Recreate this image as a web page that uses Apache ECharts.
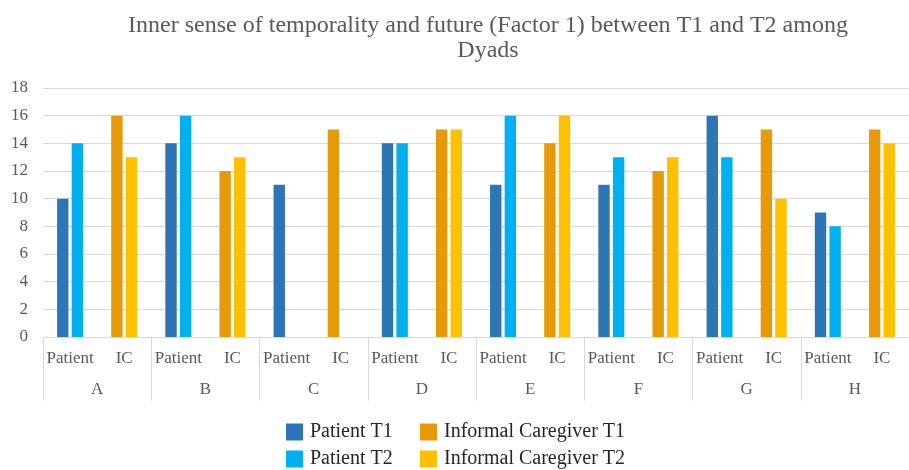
<!DOCTYPE html>
<html>
<head>
<meta charset="utf-8">
<script src="https://cdn.jsdelivr.net/npm/echarts@6/dist/echarts.min.js"></script>
<style>
  html, body { margin: 0; padding: 0; background: #fff; }
  #chart { width: 909px; height: 470px; }
</style>
</head>
<body>
<div id="chart"></div>
<script>
    // dyads and the two sub-categories shown under each
    var dyads = ['A', 'B', 'C', 'D', 'E', 'F', 'G', 'H'];
    var roles = ['Patient', 'IC'];

    // values (null = no bar)
    var patientT1 = [10, 14, 11, 14, 11, 11, 16, 9];
    var patientT2 = [14, 16, null, 14, 16, 13, 13, 8];
    var caregiverT1 = [16, 12, 15, 15, 14, 12, 15, 15];
    var caregiverT2 = [13, 13, null, 15, 16, 13, 10, 14];

    var font = 'Liberation Serif';
    var grey = '#595959';

    // 16 sub-categories: Patient, IC, Patient, IC ...
    var subCats = [];
    dyads.forEach(function () {
        subCats.push(roles[0], roles[1]);
    });

    // spread a per-dyad array into the patient or IC slot
    function spread(values, slot) {
        var out = [];
        values.forEach(function (v) {
            if (slot === 0) {
                out.push(v, null);
            }
            else {
                out.push(null, v);
            }
        });
        return out;
    }

    function bar(name, data, stack, color) {
        return {
            name: name,
            type: 'bar',
            stack: stack,
            data: data,
            itemStyle: {color: color},
            barGap: '28%',
            barCategoryGap: '52%'
        };
    }

    function legend(names, left) {
        return {
            data: names,
            orient: 'vertical',
            left: left,
            top: 417,
            height: 60,
            itemWidth: 17,
            itemHeight: 17,
            itemGap: 7,
            icon: 'rect',
            textStyle: {fontFamily: font, fontSize: 20, color: '#262626', padding: [0, 0, 0, 2]}
        };
    }

    var option = {
        backgroundColor: '#fff',
        animation: false,
        title: {
            text: 'Inner sense of temporality and future (Factor 1) between T1 and T2 among\nDyads',
            left: 483,
            top: 8,
            textAlign: 'center',
            textStyle: {
                fontFamily: font,
                fontSize: 24,
                fontWeight: 'normal',
                color: grey,
                lineHeight: 25
            }
        },
        legend: [
            legend(['Patient T1', 'Patient T2'], 281),
            legend(['Informal Caregiver T1', 'Informal Caregiver T2'], 415)
        ],
        grid: {
            left: 43,
            right: -11,
            top: 88,
            bottom: 133,
            containLabel: false
        },
        xAxis: [
            {
                type: 'category',
                data: subCats,
                axisLine: {lineStyle: {color: '#d9d9d9'}},
                axisTick: {show: false},
                axisLabel: {
                    interval: 0,
                    margin: 13,
                    fontFamily: font,
                    fontSize: 17,
                    color: grey
                }
            },
            {
                type: 'category',
                data: dyads,
                position: 'bottom',
                axisLine: {show: false},
                axisTick: {
                    show: true,
                    length: 64,
                    lineStyle: {color: '#d9d9d9'}
                },
                axisLabel: {
                    interval: 0,
                    margin: 44,
                    fontFamily: font,
                    fontSize: 17,
                    color: grey
                }
            }
        ],
        yAxis: {
            type: 'value',
            min: 0,
            max: 18,
            interval: 2,
            axisLine: {show: false},
            axisTick: {show: false},
            splitLine: {lineStyle: {color: '#d9d9d9'}},
            axisLabel: {
                margin: 15,
                fontFamily: font,
                fontSize: 17,
                color: grey
            }
        },
        series: [
            bar('Patient T1', spread(patientT1, 0), 't1', '#2E75B6'),
            bar('Patient T2', spread(patientT2, 0), 't2', '#00B0F0'),
            bar('Informal Caregiver T1', spread(caregiverT1, 1), 't1', '#E69A0A'),
            bar('Informal Caregiver T2', spread(caregiverT2, 1), 't2', '#FFC000')
        ]
    };

    var myChart = echarts.init(document.getElementById('chart'));
    myChart.setOption(option);
</script>
</body>
</html>
